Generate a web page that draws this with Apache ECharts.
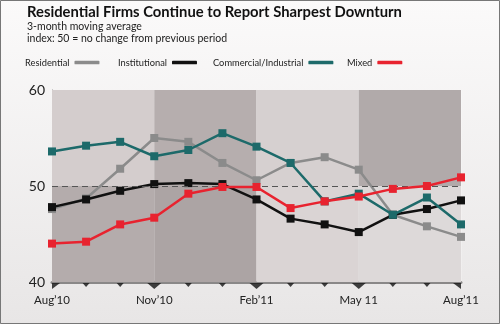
<!DOCTYPE html>
<html><head><meta charset="utf-8">
<script src="https://cdn.jsdelivr.net/npm/echarts@6/dist/echarts.min.js"></script>
<style>html,body{margin:0;padding:0;background:#fff}#c{width:500px;height:324px}</style>
</head><body><div id="c"></div>
<script>
const categories = ["Aug’10","Sep’10","Oct’10","Nov’10","Dec’10","Jan’11","Feb’11","Mar’11","Apr’11","May 11","Jun’11","Jul’11","Aug’11"];
const residential   = [47.6, 48.7, 51.8, 55.0, 54.6, 52.4, 50.6, 52.4, 53.0, 51.7, 47.0, 45.8, 44.7];
const institutional = [47.8, 48.6, 49.5, 50.2, 50.3, 50.2, 48.6, 46.6, 46.0, 45.2, 47.0, 47.6, 48.5];
const commercial    = [53.6, 54.2, 54.6, 53.1, 53.75, 55.5, 54.1, 52.4, 48.4, 49.2, 47.0, 48.8, 46.0];
const mixed         = [44.0, 44.2, 46.0, 46.7, 49.2, 49.9, 49.9, 47.7, 48.4, 48.9, 49.7, 50.0, 50.9];
const yTicks = [40, 50, 60];
const quarterLabels = ["Aug’10","Nov’10","Feb’11","May 11","Aug’11"];
const seriesNames = ["Residential","Institutional","Commercial/Industrial","Mixed"];

const chart = echarts.init(document.getElementById('c'), null, {renderer:'canvas'});
const font = 'Lato, "Open Sans", sans-serif';
const bandAbove = ['#d4cdcd','#b6aeae','#d6d0d0','#b1aaaa'];
const bandBelow = ['#b4acac','#aca4a4','#dad4d4','#ddd9d9'];
const qIdx = [0,3,6,9,12];
const areas = [];
for (let i=0;i<4;i++){
  areas.push([{xAxis:categories[qIdx[i]], yAxis:yTicks[1], itemStyle:{color:bandAbove[i]}},{xAxis:categories[qIdx[i+1]], yAxis:yTicks[2]}]);
  areas.push([{xAxis:categories[qIdx[i]], yAxis:yTicks[0], itemStyle:{color:bandBelow[i]}},{xAxis:categories[qIdx[i+1]], yAxis:yTicks[1]}]);
}
function line(name, data, color, z){
  return {name, type:'line', data, z, symbol:'rect', symbolSize:8, lineStyle:{color, width:2.5}, itemStyle:{color}, animation:false};
}
const tickData = categories.map((c,i)=>{
  const q = qIdx.includes(i);
  let symbol = 'path://M0,0 L10,0 L5,5 Z', size = q ? [14,6] : [7,4];
  let offset = [0, q?4:3];
  if (i===0){ symbol='path://M0,0 L10,0 L0,8 Z'; size=[8,6]; offset=[4,4]; }
  if (i===categories.length-1){ symbol='path://M0,0 L10,0 L10,8 Z'; size=[8,6]; offset=[-4,4]; }
  return {value:[c, yTicks[0]], symbol, symbolSize:size, symbolOffset:offset};
});
const legendLeft = [25, 118, 213, 347];

chart.setOption({
  backgroundColor: new echarts.graphic.LinearGradient(0,0,0,1,[{offset:0,color:'#fbfafa'},{offset:1,color:'#e8e6e6'}]),
  animation:false,
  title:{
    text:'Residential Firms Continue to Report Sharpest Downturn',
    subtext:'3-month moving average\nindex: 50 = no change from previous period',
    left:22, top:0, itemGap:0,
    textStyle:{fontFamily:font, fontWeight:'bold', fontSize:14.8, color:'#111'},
    subtextStyle:{fontFamily:font, fontSize:10.5, color:'#222', lineHeight:12.5}
  },
  legend: seriesNames.map((n,i)=>({
    data:[n], left:legendLeft[i], top:58, align:'right', itemWidth:25, itemHeight:3.5,
    icon:'roundRect', padding:0,
    textStyle:{fontFamily:font, fontSize:9.3, color:'#222', padding:[0,0,0,-1]}
  })),
  grid:{left:52, right:39, top:90, bottom:42},
  xAxis:{
    type:'category', data:categories, boundaryGap:false,
    axisLine:{lineStyle:{color:'#8a8888', width:3}},
    axisTick:{show:false},
    splitLine:{show:true, lineStyle:{color:'rgba(255,255,255,0.25)', width:1}},
    axisLabel:{interval:2, margin:12, fontFamily:font, fontSize:11.5, color:'#222',
      formatter:(v,i)=>quarterLabels[qIdx.indexOf(i)] ?? v}
  },
  yAxis:{
    type:'value', min:yTicks[0], max:yTicks[2], interval:yTicks[1]-yTicks[0],
    axisLine:{show:true, lineStyle:{color:'#888', width:1}},
    axisTick:{show:false}, splitLine:{show:false},
    axisLabel:{margin:7, fontFamily:font, fontSize:14, color:'#222'}
  },
  series:[
    {type:'line', data:[], silent:true, z:1,
      markArea:{silent:true, data:areas},
      markLine:{silent:true, symbol:'none', label:{show:false},
        lineStyle:{color:'#555', type:[6,4], width:1}, data:[{yAxis:yTicks[1]}]}},
    line(seriesNames[0], residential, '#8b8b8b', 3),
    line(seriesNames[1], institutional, '#111111', 4),
    line(seriesNames[2], commercial, '#1d6a6a', 5),
    line(seriesNames[3], mixed, '#e8232f', 6),
    {type:'scatter', data:tickData, clip:false, silent:true, itemStyle:{color:'#111'}, z:10}
  ],
  graphic:[{type:'rect', shape:{x:0.5,y:0.5,width:499,height:323}, style:{fill:'none', stroke:'#777', lineWidth:1}, silent:true}]
});
</script></body></html>
